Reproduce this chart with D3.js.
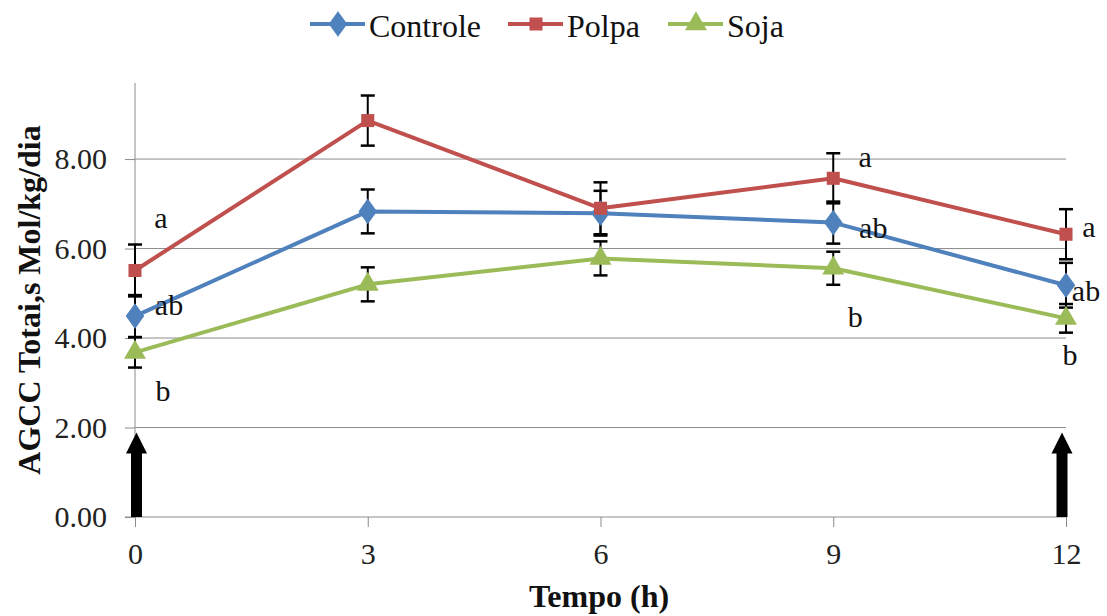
<!DOCTYPE html>
<html lang="pt">
<head>
<meta charset="UTF-8">
<script src="https://cdn.jsdelivr.net/npm/d3@7"></script>
<style>
  body { margin: 0; background: #fff; }
  svg text { font-family: "Liberation Serif", serif !important; }
</style>
</head>
<body>
<div id="chart"></div>
<script>
// data
const tempos = [0, 3, 6, 9, 12];
const controle = [4.49, 6.83, 6.79, 6.58, 5.18];
const polpa = [5.51, 8.86, 6.90, 7.57, 6.32];
const soja = [3.68, 5.20, 5.78, 5.56, 4.44];
const erroControle = [0.47, 0.49, 0.50, 0.47, 0.50];
const erroPolpa = [0.58, 0.56, 0.58, 0.56, 0.56];
const erroSoja = [0.34, 0.38, 0.38, 0.37, 0.32];
const yTicks = [0, 2, 4, 6, 8];
// significance letters: [series, tempo index, letter]
const letras = [
  ["Polpa", 0, "a"], ["Controle", 0, "ab"], ["Soja", 0, "b"],
  ["Polpa", 3, "a"], ["Controle", 3, "ab"], ["Soja", 3, "b"],
  ["Polpa", 4, "a"], ["Controle", 4, "ab"], ["Soja", 4, "b"]
];
const setas = [0, 12];

const width = 1107, height = 616;
const margin = {left: 135, right: 41, top: 83, bottom: 99};
const serif = "'Liberation Serif', serif";

const series = [
  {name: "Controle", values: controle, err: erroControle, color: "#4F81BD", shape: d3.symbolDiamond, size: 190},
  {name: "Polpa", values: polpa, err: erroPolpa, color: "#C0504D", shape: d3.symbolSquare, size: 170},
  {name: "Soja", values: soja, err: erroSoja, color: "#9BBB59", shape: d3.symbolTriangle, size: 210}
];

const svg = d3.select("#chart").append("svg")
  .attr("width", width).attr("height", height);

const x = d3.scaleLinear().domain([0, 12]).range([margin.left, width - margin.right]);
const y = d3.scaleLinear().domain([0, 9.7]).range([height - margin.bottom, margin.top]);

// gridlines
svg.append("g").selectAll("line")
  .data(yTicks.slice(1))
  .join("line")
  .attr("x1", x(0)).attr("x2", x(12))
  .attr("y1", d => y(d)).attr("y2", d => y(d))
  .attr("stroke", "#8c8c8c").attr("stroke-width", 1);

// y axis
const yAxis = svg.append("g")
  .attr("transform", `translate(${x(0)},0)`)
  .call(d3.axisLeft(y).tickValues(yTicks).tickFormat(d3.format(".2f")).tickSize(10).tickPadding(18));
yAxis.attr("font-family", null).attr("font-size", null);
yAxis.select(".domain").attr("stroke", "#8c8c8c").attr("d", `M0,${y(0)}V${margin.top}`);
yAxis.selectAll(".tick line").attr("stroke", "#8c8c8c");
yAxis.selectAll(".tick text").style("font-size", "30px").style("font-family", serif).attr("fill", "#222");

// x axis
const xAxis = svg.append("g")
  .attr("transform", `translate(0,${y(0)})`)
  .call(d3.axisBottom(x).tickValues(tempos).tickSize(10).tickPadding(16));
xAxis.attr("font-family", null).attr("font-size", null);
xAxis.select(".domain").attr("stroke", "#8c8c8c").attr("d", `M${x(0) - 10},0H${x(12)}`);
xAxis.selectAll(".tick line").attr("stroke", "#8c8c8c");
xAxis.selectAll(".tick text").style("font-size", "30px").style("font-family", serif).attr("fill", "#222");

// arrows from 0 to 2
const arrowPath = cx => {
  const b = y(0), t = y(2) + 5, hb = t + 21;
  return `M${cx - 5.5},${b}V${hb}H${cx - 10.5}L${cx},${t}L${cx + 10.5},${hb}H${cx + 5.5}V${b}Z`;
};
svg.append("g").selectAll("path")
  .data(setas)
  .join("path")
  .attr("d", d => arrowPath(x(d) + (d === 0 ? 1.5 : -4)))
  .attr("fill", "#000");

// lines
const line = d3.line().x((d, i) => x(tempos[i])).y(d => y(d));
series.forEach(s => {
  svg.append("path")
    .datum(s.values)
    .attr("d", line)
    .attr("fill", "none")
    .attr("stroke", s.color)
    .attr("stroke-width", 4)
    .attr("stroke-linejoin", "round");
});

// error bars
series.forEach(s => {
  const g = svg.append("g");
  s.values.forEach((v, i) => {
    const cx = x(tempos[i]);
    g.append("line").attr("x1", cx).attr("x2", cx)
      .attr("y1", y(v + s.err[i])).attr("y2", y(v - s.err[i]))
      .attr("stroke", "#000").attr("stroke-width", 2);
    [v + s.err[i], v - s.err[i]].forEach(e => {
      g.append("line").attr("x1", cx - 7).attr("x2", cx + 7)
        .attr("y1", y(e)).attr("y2", y(e))
        .attr("stroke", "#000").attr("stroke-width", 2.5);
    });
  });
});

// markers
series.forEach(s => {
  svg.append("g").selectAll("path")
    .data(s.values)
    .join("path")
    .attr("transform", (d, i) => `translate(${x(tempos[i])},${y(d)})${s.name === "Controle" ? " scale(1.25,1)" : ""}`)
    .attr("d", d3.symbol().type(s.shape).size(s.size))
    .attr("fill", s.color);
});

// letters
const letterOffset = {
  "0-Polpa": [26, -53], "0-Controle": [34, -12], "0-Soja": [28, 38],
  "3-Polpa": [32, -22], "3-Controle": [40, 5], "3-Soja": [22, 48],
  "4-Polpa": [23, -8], "4-Controle": [20, 5], "4-Soja": [4, 36]
};
svg.append("g").selectAll("text")
  .data(letras)
  .join("text")
  .attr("x", d => x(tempos[d[1]]) + letterOffset[d[1] + "-" + d[0]][0])
  .attr("y", d => {
    const s = series.find(t => t.name === d[0]);
    return y(s.values[d[1]]) + letterOffset[d[1] + "-" + d[0]][1];
  })
  .attr("text-anchor", "middle")
  .attr("dominant-baseline", "central")
  .style("font-size", "30px")
  .style("font-family", serif)
  .attr("fill", "#111")
  .text(d => d[2]);

// axis titles
svg.append("text")
  .attr("transform", `translate(29,300) rotate(-90)`)
  .attr("text-anchor", "middle")
  .attr("dominant-baseline", "central")
  .style("font-size", "32px").style("font-family", serif)
  .attr("font-weight", "bold").attr("fill", "#111")
  .text("AGCC Totai,s Mol/kg/dia");

svg.append("text")
  .attr("x", 599).attr("y", 607)
  .attr("text-anchor", "middle")
  .style("font-size", "32px").style("font-family", serif)
  .attr("font-weight", "bold").attr("fill", "#111")
  .text("Tempo (h)");

// legend
const legendX = [310, 508, 668];
const legend = svg.append("g").selectAll("g")
  .data(series)
  .join("g")
  .attr("transform", (d, i) => `translate(${legendX[i]},24)`);
legend.append("line")
  .attr("x1", 0).attr("x2", 55)
  .attr("stroke", d => d.color).attr("stroke-width", 4);
legend.append("path")
  .attr("transform", d => `translate(28,0)${d.name === "Controle" ? " scale(1.25,1)" : ""}`)
  .attr("d", d => d3.symbol().type(d.shape).size(d.size)())
  .attr("fill", d => d.color);
legend.append("text")
  .attr("x", 59).attr("y", 2)
  .attr("dominant-baseline", "central")
  .style("font-size", "32px").style("font-family", serif)
  .attr("fill", "#111")
  .text(d => d.name);
</script>
</body>
</html>
